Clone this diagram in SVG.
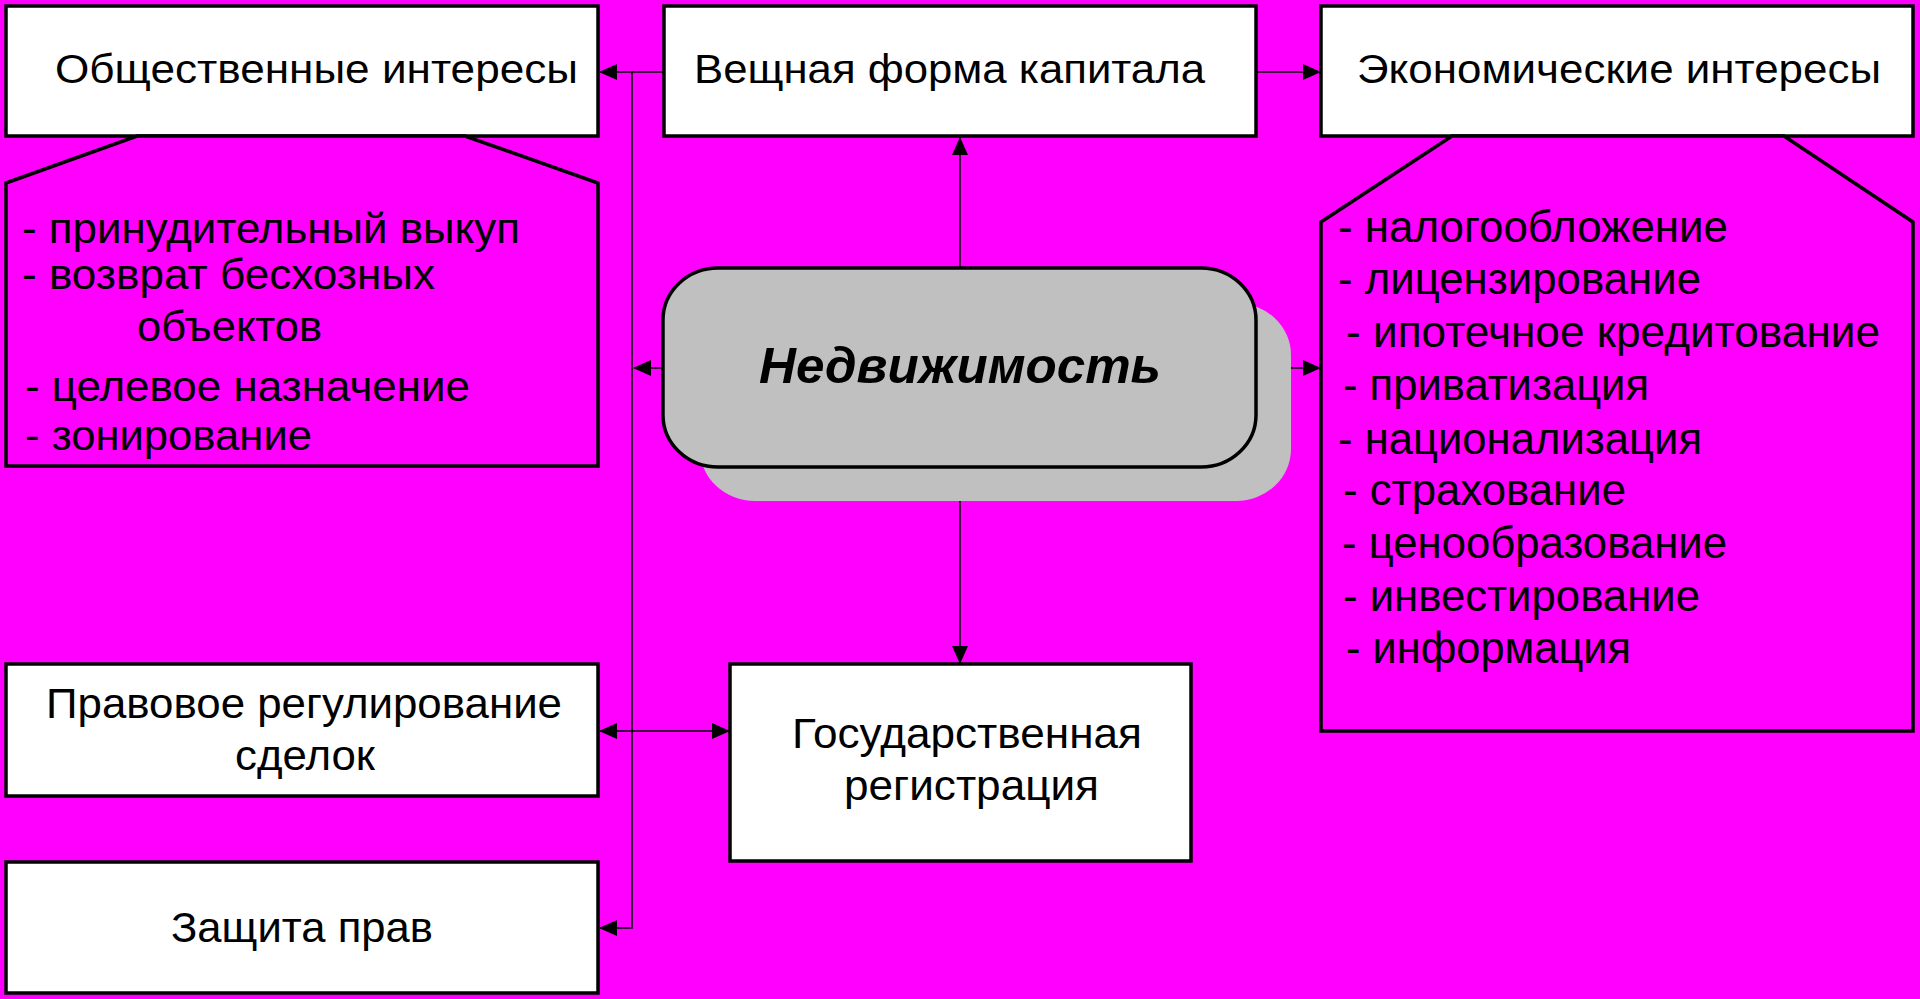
<svg xmlns="http://www.w3.org/2000/svg" width="1920" height="999" viewBox="0 0 1920 999">
<style>
.box{fill:#ffffff;stroke:#000000;stroke-width:3.5}
.pent{fill:#ff00ff;stroke:#000000;stroke-width:3.5}
.t{font-family:"Liberation Sans",Arial,sans-serif;fill:#000000}
.h{font-size:40px}
.l{font-size:42px}
.r{font-size:44px}
.c{text-anchor:middle}
.con{fill:none;stroke:#000000;stroke-width:1.5}
</style>
<defs>
<marker id="arr" viewBox="0 0 18 16" markerWidth="18" markerHeight="16" refX="17" refY="8" markerUnits="userSpaceOnUse" orient="auto-start-reverse">
<path d="M0,0 L18,8 L0,16 z" fill="#000000"/>
</marker>
</defs>
<rect x="0" y="0" width="1920" height="999" fill="#ff00ff"/>

<g id="connectors">
<line class="con" x1="663" y1="72" x2="600" y2="72" marker-end="url(#arr)"/>
<polyline class="con" points="632,72 632,928 600,928" marker-end="url(#arr)"/>
<line class="con" x1="663" y1="368" x2="634" y2="368" marker-end="url(#arr)"/>
<line class="con" x1="600" y1="731" x2="729" y2="731" marker-start="url(#arr)" marker-end="url(#arr)"/>
<line class="con" x1="960" y1="268" x2="960" y2="138" marker-end="url(#arr)"/>
<line class="con" x1="960" y1="467" x2="960" y2="663" marker-end="url(#arr)"/>
<line class="con" x1="1256" y1="72" x2="1320" y2="72" marker-end="url(#arr)"/>
<line class="con" x1="1256" y1="368" x2="1320" y2="368" marker-end="url(#arr)"/>
</g>

<g id="obshch">
<rect class="box" x="6" y="6" width="592" height="130"/>
<text class="t h" x="55" y="83" textLength="523" lengthAdjust="spacingAndGlyphs">Общественные интересы</text>
</g>

<g id="obshch-list">
<polygon class="pent" points="6,183 137,136 465,136 598,183 598,466 6,466"/>
<text class="t l" x="22" y="243" textLength="498" lengthAdjust="spacingAndGlyphs">- принудительный выкуп</text>
<text class="t l" x="22" y="289" textLength="413" lengthAdjust="spacingAndGlyphs">- возврат бесхозных</text>
<text class="t l" x="137" y="341" textLength="185" lengthAdjust="spacingAndGlyphs">объектов</text>
<text class="t l" x="25" y="401" textLength="445" lengthAdjust="spacingAndGlyphs">- целевое назначение</text>
<text class="t l" x="25" y="450" textLength="287" lengthAdjust="spacingAndGlyphs">- зонирование</text>
</g>

<g id="veshch">
<rect class="box" x="664" y="6" width="592" height="130"/>
<text class="t h" x="694" y="83" textLength="511" lengthAdjust="spacingAndGlyphs">Вещная форма капитала</text>
</g>

<g id="ekon">
<rect class="box" x="1321" y="6" width="592" height="130"/>
<text class="t h" x="1357" y="83" textLength="524" lengthAdjust="spacingAndGlyphs">Экономические интересы</text>
</g>

<g id="ekon-list">
<polygon class="pent" points="1321,222 1452,136 1784,136 1913,222 1913,731 1321,731"/>
<text class="t r" x="1338" y="242" textLength="390" lengthAdjust="spacingAndGlyphs">- налогообложение</text>
<text class="t r" x="1338" y="294" textLength="363" lengthAdjust="spacingAndGlyphs">- лицензирование</text>
<text class="t r" x="1346" y="347" textLength="534" lengthAdjust="spacingAndGlyphs">- ипотечное кредитование</text>
<text class="t r" x="1343" y="400" textLength="306" lengthAdjust="spacingAndGlyphs">- приватизация</text>
<text class="t r" x="1338" y="454" textLength="364" lengthAdjust="spacingAndGlyphs">- национализация</text>
<text class="t r" x="1343" y="505" textLength="283" lengthAdjust="spacingAndGlyphs">- страхование</text>
<text class="t r" x="1342" y="558" textLength="385" lengthAdjust="spacingAndGlyphs">- ценообразование</text>
<text class="t r" x="1343" y="611" textLength="357" lengthAdjust="spacingAndGlyphs">- инвестирование</text>
<text class="t r" x="1346" y="663" textLength="285" lengthAdjust="spacingAndGlyphs">- информация</text>
</g>

<g id="nedv">
<rect x="700" y="303" width="591" height="198" rx="55" ry="52" fill="#c0c0c0"/>
<rect x="663" y="268" width="593" height="199" rx="55" ry="52" fill="#c0c0c0" stroke="#000000" stroke-width="3.5"/>
<text class="t c" x="960" y="383" font-size="50" font-weight="bold" font-style="italic" textLength="402" lengthAdjust="spacingAndGlyphs">Недвижимость</text>
</g>

<g id="pravovoe">
<rect class="box" x="6" y="664" width="592" height="132"/>
<text class="t l" x="46" y="718" textLength="516" lengthAdjust="spacingAndGlyphs">Правовое регулирование</text>
<text class="t l" x="235" y="770" textLength="140" lengthAdjust="spacingAndGlyphs">сделок</text>
</g>

<g id="gosreg">
<rect class="box" x="730" y="664" width="461" height="197"/>
<text class="t l" x="792" y="748" textLength="350" lengthAdjust="spacingAndGlyphs">Государственная</text>
<text class="t l" x="844" y="800" textLength="255" lengthAdjust="spacingAndGlyphs">регистрация</text>
</g>

<g id="zashchita">
<rect class="box" x="6" y="862" width="592" height="131"/>
<text class="t l" x="171" y="942" textLength="262" lengthAdjust="spacingAndGlyphs">Защита прав</text>
</g>
</svg>
